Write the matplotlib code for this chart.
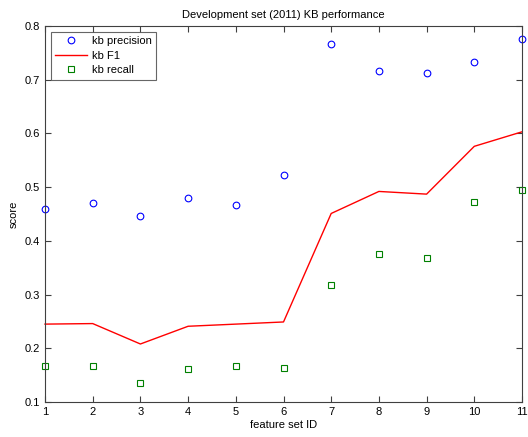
import matplotlib
matplotlib.use("Agg")
import matplotlib.pyplot as plt

plt.rcParams['font.family'] = ['Liberation Sans', 'DejaVu Sans']

feature_ids = [1, 2, 3, 4, 5, 6, 7, 8, 9, 10, 11]
kb_precision = [0.460, 0.471, 0.447, 0.479, 0.466, 0.522, 0.766, 0.717, 0.712, 0.733, 0.775]
kb_f1 = [0.245, 0.246, 0.208, 0.241, 0.245, 0.249, 0.451, 0.492, 0.487, 0.576, 0.603]
kb_recall = [0.167, 0.167, 0.135, 0.161, 0.167, 0.164, 0.318, 0.375, 0.369, 0.473, 0.495]

fig = plt.figure(figsize=(5.28, 4.37), dpi=100)
ax = fig.add_axes([45/528, 35/437, 477/528, 376/437])

ax.plot(feature_ids, kb_precision, 'o', markerfacecolor='none', markeredgecolor='blue',
        markersize=4.8, markeredgewidth=0.8, label='kb precision', clip_on=False)
ax.plot(feature_ids, kb_f1, '-', color='red', linewidth=1.0, label='kb F1', clip_on=False)
ax.plot(feature_ids, kb_recall, 's', markerfacecolor='none', markeredgecolor='green',
        markersize=4.2, markeredgewidth=0.8, label='kb recall', clip_on=False)

ax.set_xlim(1, 11)
ax.set_ylim(0.1, 0.8)
ax.set_xticks(feature_ids)
ax.set_yticks([0.1, 0.2, 0.3, 0.4, 0.5, 0.6, 0.7, 0.8])
ax.set_yticklabels(['0.1', '0.2', '0.3', '0.4', '0.5', '0.6', '0.7', '0.8'])
ax.tick_params(direction='in', length=4, width=0.8, colors='#404040', labelcolor='black',
               labelsize=8, top=True, right=True)
for s in ax.spines.values():
    s.set_color('#404040')
    s.set_linewidth(0.8)

ax.set_xlabel('feature set ID', fontsize=8, labelpad=2)
ax.set_ylabel('score', fontsize=8, labelpad=4)
ax.set_title('Development set (2011) KB performance', fontsize=8, pad=6)

leg = ax.legend(loc='upper left', fontsize=8, frameon=True, fancybox=False,
                edgecolor='#404040', borderaxespad=0.5, handlelength=2.9,
                handletextpad=0.4, borderpad=0.4, labelspacing=0.42)
leg.get_frame().set_linewidth(0.8)

fig.savefig('out.png', dpi=100)
